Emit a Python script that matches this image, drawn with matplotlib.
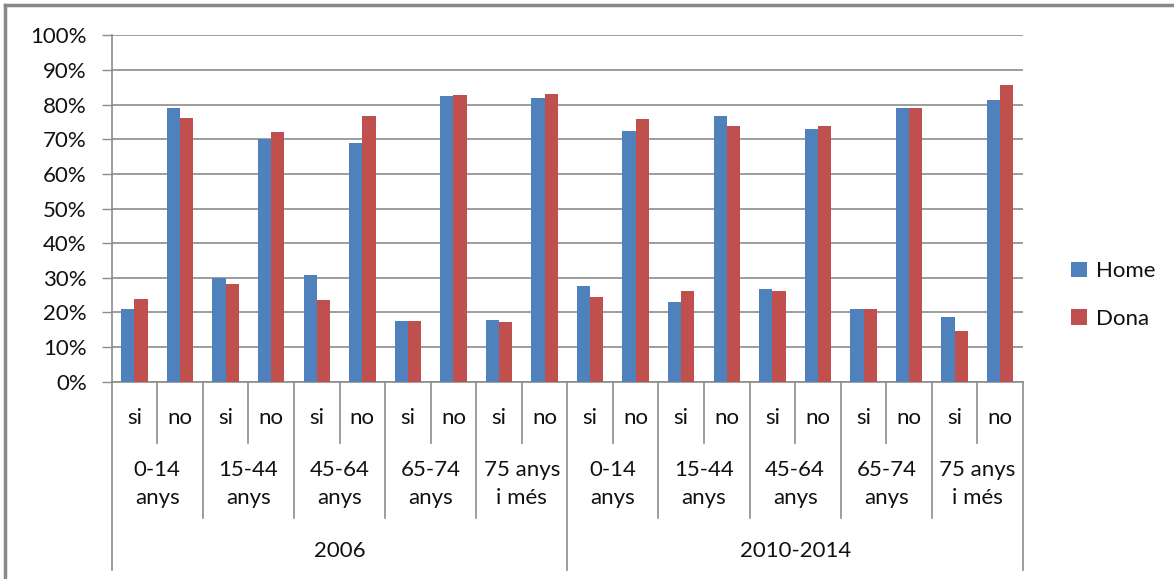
import matplotlib.pyplot as plt
from matplotlib.lines import Line2D
from matplotlib.ticker import PercentFormatter
import numpy as np

plt.rcParams['font.family'] = ['Lato', 'DejaVu Sans']

# categories
periods = ['2006', '2010-2014']
age_groups = ['0-14\nanys', '15-44\nanys', '45-64\nanys', '65-74\nanys', '75 anys\ni més']
answers = ['si', 'no']

# values in % (si, no per age group; 2006 then 2010-2014)
home = [20.9, 79.0, 30.0, 70.0, 30.8, 69.0, 17.4, 82.4, 17.9, 82.0,
        27.5, 72.4, 23.1, 76.8, 26.8, 73.1, 20.9, 79.0, 18.6, 81.3]
dona = [23.8, 76.1, 28.3, 72.0, 23.5, 76.8, 17.4, 82.8, 17.1, 83.2,
        24.5, 75.8, 26.1, 73.8, 26.1, 73.8, 20.9, 79.0, 14.6, 85.8]

BLUE = '#4f81bd'
RED = '#c0504d'
GRID = '#8c8c8c'
TXT = '#111111'

fig = plt.figure(figsize=(11.74, 5.79), dpi=100)
ax = fig.add_axes([111.7 / 1174, 1 - 381.7 / 579, (1023 - 111.7) / 1174, (381.7 - 35.4) / 579])

n = len(home)
x = np.arange(n)
w = 0.29
ax.bar(x - w / 2, home, w, color=BLUE, label='Home', zorder=3)
ax.bar(x + w / 2, dona, w, color=RED, label='Dona', zorder=3)

ax.set_xlim(-0.5, n - 0.5)
ax.set_ylim(0, 100)
ax.set_yticks(np.arange(0, 101, 10))
ax.yaxis.set_major_formatter(PercentFormatter(decimals=0))
ax.yaxis.grid(True, color=GRID, linewidth=1.2, zorder=0)
ax.set_xticks([])
ax.tick_params(axis='y', length=7, width=1, color=GRID, pad=11, labelsize=16, labelcolor=TXT)
for s in ['top', 'right']:
    ax.spines[s].set_visible(False)
ax.spines['left'].set_color(GRID)
ax.spines['bottom'].set_color(GRID)
ax.spines['left'].set_linewidth(1.2)
ax.spines['bottom'].set_linewidth(1.2)

# multi-level category axis drawn under the plot
trans = ax.get_xaxis_transform()
px = 381.7 - 35.4
def ya(ypix):
    return -(ypix - 381.7) / px

for b in range(n + 1):
    xb = b - 0.5
    if b % 10 == 0:
        yend = 570
    elif b % 2 == 0:
        yend = 518
    else:
        yend = 443
    ax.add_line(Line2D([xb, xb], [0, ya(yend)], transform=trans, color=GRID,
                       linewidth=1.2, clip_on=False))

txt = dict(transform=trans, ha='center', va='center', fontsize=16, color=TXT)
for i in range(n):
    ax.text(x[i], ya(418), answers[i % 2], **txt)
for p in range(len(periods)):
    for g, lab in enumerate(age_groups):
        c = p * 10 + g * 2 + 0.5
        ax.text(c, ya(484), lab, linespacing=1.55, **txt)
    ax.text(p * 10 + 4.5, ya(551), periods[p], **txt)

leg = fig.legend(loc='upper left', bbox_to_anchor=(1060 / 1174, 1 - 250 / 579), frameon=False,
                 fontsize=16, handlelength=0.7, handleheight=0.7, handletextpad=0.4,
                 labelspacing=1.25, borderpad=0)
for t in leg.get_texts():
    t.set_color(TXT)

# outer chart frame
fig.add_artist(Line2D([5 / 1174, 1], [1 - 5 / 579, 1 - 5 / 579], transform=fig.transFigure,
                      color='#888888', linewidth=2.5))
fig.add_artist(Line2D([5 / 1174, 5 / 1174], [0, 1 - 5 / 579], transform=fig.transFigure,
                      color='#888888', linewidth=2.5))

fig.savefig('out.png', dpi=100)
